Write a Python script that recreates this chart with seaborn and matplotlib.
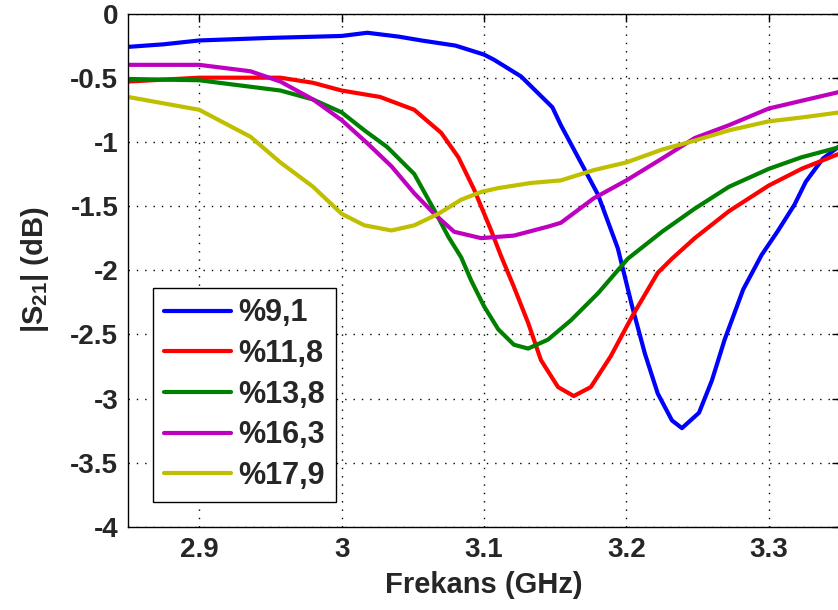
import numpy as np
import pandas as pd
import matplotlib
matplotlib.use("Agg")
import matplotlib.pyplot as plt
import seaborn as sns

# values (GHz, dB)
labels = ["%9,1", "%11,8", "%13,8", "%16,3", "%17,9"]
colors = ["#0000ff", "#ff0000", "#008000", "#bf00bf", "#bfbf00"]

blue_f = [2.85, 2.875, 2.90, 2.95, 3.00, 3.018, 3.04, 3.056, 3.08, 3.10, 3.107, 3.126, 3.148,
          3.154, 3.168, 3.18, 3.194, 3.204, 3.213, 3.222, 3.232, 3.239, 3.251, 3.26, 3.269,
          3.274, 3.282, 3.295, 3.306, 3.318, 3.326, 3.338, 3.35]
blue_s = [-0.26, -0.24, -0.21, -0.19, -0.175, -0.15, -0.18, -0.21, -0.25, -0.32, -0.36, -0.49,
          -0.73, -0.87, -1.16, -1.41, -1.83, -2.28, -2.65, -2.96, -3.17, -3.23, -3.11, -2.86,
          -2.54, -2.39, -2.15, -1.88, -1.70, -1.49, -1.31, -1.13, -1.03]

red_f = [2.85, 2.90, 2.957, 2.98, 3.00, 3.027, 3.051, 3.07, 3.082, 3.093, 3.105, 3.112, 3.121,
         3.131, 3.14, 3.152, 3.163, 3.175, 3.189, 3.204, 3.222, 3.232, 3.248, 3.272, 3.30,
         3.323, 3.35]
red_s = [-0.53, -0.50, -0.50, -0.54, -0.60, -0.65, -0.75, -0.93, -1.12, -1.37, -1.69, -1.89,
         -2.13, -2.41, -2.70, -2.91, -2.98, -2.91, -2.67, -2.36, -2.02, -1.91, -1.75, -1.54,
         -1.34, -1.21, -1.09]

green_f = [2.85, 2.90, 2.957, 2.98, 3.00, 3.016, 3.032, 3.051, 3.065, 3.075, 3.084, 3.091, 3.10,
           3.11, 3.121, 3.131, 3.145, 3.161, 3.18, 3.201, 3.225, 3.248, 3.272, 3.30, 3.323, 3.35]
green_s = [-0.51, -0.52, -0.60, -0.67, -0.77, -0.91, -1.04, -1.25, -1.53, -1.74, -1.90, -2.08,
           -2.28, -2.46, -2.58, -2.61, -2.54, -2.39, -2.18, -1.91, -1.70, -1.52, -1.35, -1.21,
           -1.12, -1.04]

magenta_f = [2.85, 2.90, 2.936, 2.957, 2.98, 3.00, 3.018, 3.035, 3.051, 3.065, 3.079, 3.098,
             3.121, 3.145, 3.154, 3.177, 3.20, 3.225, 3.248, 3.272, 3.30, 3.323, 3.35]
magenta_s = [-0.40, -0.40, -0.45, -0.53, -0.67, -0.83, -1.01, -1.19, -1.40, -1.56, -1.70, -1.75,
             -1.73, -1.66, -1.63, -1.44, -1.30, -1.13, -0.97, -0.87, -0.74, -0.68, -0.61]

yellow_f = [2.85, 2.90, 2.936, 2.957, 2.98, 3.00, 3.016, 3.035, 3.051, 3.068, 3.084, 3.098, 3.11,
            3.133, 3.154, 3.177, 3.20, 3.225, 3.248, 3.272, 3.30, 3.323, 3.35]
yellow_s = [-0.65, -0.75, -0.96, -1.16, -1.35, -1.56, -1.65, -1.69, -1.65, -1.56, -1.45, -1.39,
            -1.36, -1.32, -1.30, -1.22, -1.16, -1.06, -0.99, -0.91, -0.84, -0.81, -0.77]

x_ticks = [2.9, 3.0, 3.1, 3.2, 3.3]
x_ticklabels = ["2.9", "3", "3.1", "3.2", "3.3"]
y_ticks = [0, -0.5, -1, -1.5, -2, -2.5, -3, -3.5, -4]
y_ticklabels = ["0", "-0.5", "-1", "-1.5", "-2", "-2.5", "-3", "-3.5", "-4"]

freqs = [blue_f, red_f, green_f, magenta_f, yellow_f]
s21s = [blue_s, red_s, green_s, magenta_s, yellow_s]
frames = []
for lab, f, s in zip(labels, freqs, s21s):
    frames.append(pd.DataFrame({"f": f, "s": s, "oran": lab}))
df = pd.concat(frames, ignore_index=True)

sns.set_style("white")
plt.rcParams['font.family'] = ['Liberation Sans', 'DejaVu Sans']
plt.rcParams['font.weight'] = 'bold'
plt.rcParams['mathtext.fontset'] = 'custom'
plt.rcParams['mathtext.rm'] = 'Liberation Sans:bold'
plt.rcParams['mathtext.bf'] = 'Liberation Sans:bold'

fig = plt.figure(figsize=(8.38, 6.1), dpi=100)
ax = fig.add_axes([128 / 838, 83 / 610, 712 / 838, 513.5 / 610])

sns.lineplot(data=df, x="f", y="s", hue="oran", palette=dict(zip(labels, colors)),
             hue_order=labels, linewidth=3, sort=False, estimator=None, ax=ax)

ax.set_xlim(2.85, 3.35)
ax.set_ylim(-4, 0)
ax.set_xticks(x_ticks)
ax.set_xticklabels(x_ticklabels)
ax.set_yticks(y_ticks)
ax.set_yticklabels(y_ticklabels)
ax.tick_params(direction='in', length=6, width=1, top=True, right=True,
               labelsize=20, pad=7, color='black')
for t in ax.get_xticklabels() + ax.get_yticklabels():
    t.set_fontweight('bold')
ax.grid(True, color='black', linestyle=(0, (1, 5)), linewidth=1)
for sp in ax.spines.values():
    sp.set_color('black')
    sp.set_linewidth(1)

ax.set_xlabel("Frekans (GHz)", fontsize=21, fontweight='bold', labelpad=6)
ax.set_ylabel(r"|S$_{\mathbf{21}}$| (dB)", fontsize=21, fontweight='bold', labelpad=14)

leg = ax.legend(loc='lower left', bbox_to_anchor=(0.035, 0.049), borderaxespad=0,
                fontsize=22, handlelength=2.2, handletextpad=0.25, labelspacing=0.35,
                frameon=True, fancybox=False, framealpha=1, edgecolor='black',
                borderpad=0.35, title=None)
leg.get_frame().set_linewidth(1)
for t in leg.get_texts():
    t.set_fontweight('bold')
for h in leg.get_lines():
    h.set_linewidth(3)

fig.savefig("out.png", dpi=100)
